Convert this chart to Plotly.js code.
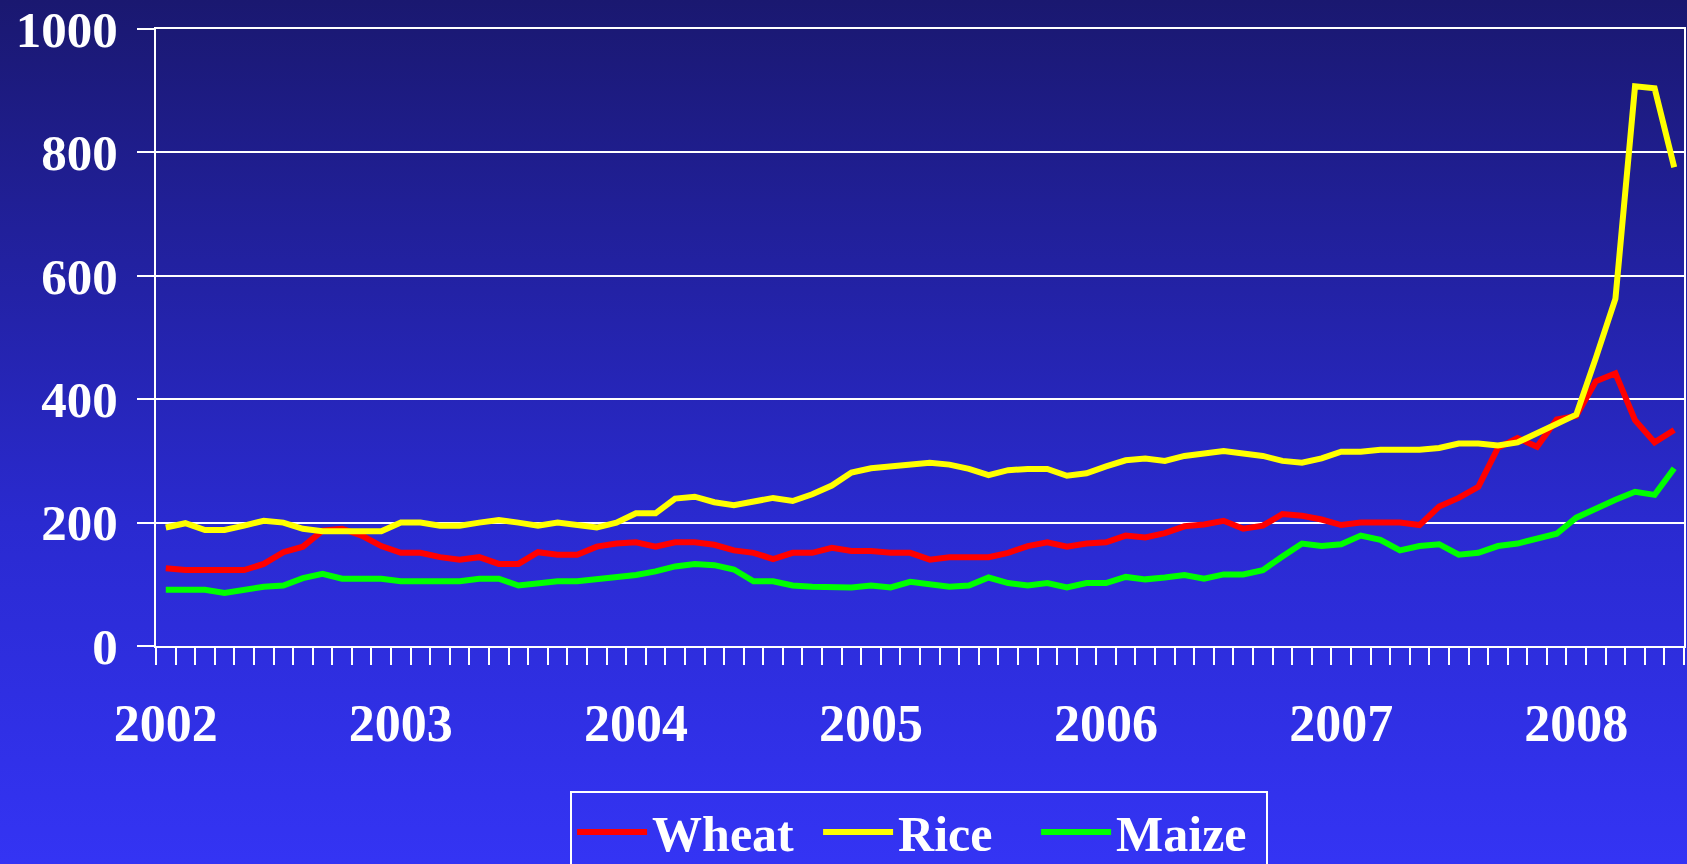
<!DOCTYPE html>
<html>
<head>
<meta charset="utf-8">
<script src="https://cdn.plot.ly/plotly-3.0.1.min.js"></script>
<style>
html,body{margin:0;padding:0;overflow:hidden;background:#3434f4;}
#chart{width:1687px;height:900px;background:linear-gradient(to bottom,#1a1870 0%,#2a2ad0 58%,#3434f4 96%,#3434f4 100%);}
</style>
</head>
<body>
<div id="chart"></div>
<script>
// Monthly categories, Jan 2002 - Jun 2008
const months = [
 "2002-01","2002-02","2002-03","2002-04","2002-05","2002-06","2002-07","2002-08","2002-09","2002-10","2002-11","2002-12",
 "2003-01","2003-02","2003-03","2003-04","2003-05","2003-06","2003-07","2003-08","2003-09","2003-10","2003-11","2003-12",
 "2004-01","2004-02","2004-03","2004-04","2004-05","2004-06","2004-07","2004-08","2004-09","2004-10","2004-11","2004-12",
 "2005-01","2005-02","2005-03","2005-04","2005-05","2005-06","2005-07","2005-08","2005-09","2005-10","2005-11","2005-12",
 "2006-01","2006-02","2006-03","2006-04","2006-05","2006-06","2006-07","2006-08","2006-09","2006-10","2006-11","2006-12",
 "2007-01","2007-02","2007-03","2007-04","2007-05","2007-06","2007-07","2007-08","2007-09","2007-10","2007-11","2007-12",
 "2008-01","2008-02","2008-03","2008-04","2008-05","2008-06"
];
// Year tick labels, placed at the January of each year
const yearTicks = ["2002-01","2003-01","2004-01","2005-01","2006-01","2007-01","2008-01"];
const yearLabels = ["2002","2003","2004","2005","2006","2007","2008"];
const yTicks = [0,200,400,600,800,1000];

const wheat = [
 126,123,123,123,123,133,152,161,187,190,179,162,
 151,151,144,140,144,133,133,152,148,148,161,166,
 168,161,168,168,164,155,151,141,151,151,159,154,
 154,151,151,140,144,144,144,151,162,168,161,166,
 168,179,176,183,194,197,203,190,195,214,211,205,
 196,200,200,200,196,226,240,258,321,337,323,367,
 373,429,442,366,330,350
];
const rice = [
 192,199,188,188,195,203,200,190,186,186,186,186,
 200,200,195,195,200,204,200,195,200,195,192,200,
 215,215,239,242,233,228,233,240,235,246,260,281,
 288,291,295,297,294,287,277,285,287,287,276,280,
 291,301,304,300,308,312,316,312,308,300,297,304,
 315,315,318,318,318,321,328,328,325,330,345,362,
 375,467,563,907,904,776
];
const maize = [
 91,91,91,86,91,96,98,110,117,109,109,109,
 105,105,105,105,109,109,98,102,105,105,108,112,
 115,121,129,133,131,124,105,105,98,96,95,95,
 98,95,104,100,96,98,111,102,98,102,95,102,
 102,112,108,111,115,109,116,116,123,145,166,162,
 165,179,172,155,162,165,148,151,162,166,173,182,
 208,223,237,250,245,288
];

const xTickText = months.map(m => {
  const k = yearTicks.indexOf(m);
  return k >= 0 ? yearLabels[k] : "";
});

const FONT = '"Liberation Serif", "Times New Roman", serif';
const mk = (name, y, color, lw) => ({
  type: 'scatter', mode: 'lines', name: name, x: months, y: y,
  line: {color: color, width: 6, shape: 'linear'},
  legendwidth: lw,
  hoverinfo: 'x+y+name'
});
const data = [
  mk('Wheat', wheat, '#ff0000', 161),
  mk('Rice', rice, '#ffff00', 133),
  mk('Maize', maize, '#00ff00', 145)
];

const layout = {
  width: 1687, height: 900,
  paper_bgcolor: 'rgba(0,0,0,0)',
  plot_bgcolor: 'rgba(0,0,0,0)',
  margin: {l: 156, r: 3, t: 29, b: 254, pad: 0},
  font: {family: FONT, size: 50, color: '#ffffff', weight: 'bold'},
  showlegend: true,
  xaxis: {
    type: 'category',
    range: [-0.5, months.length - 0.5],
    tickmode: 'array', tickvals: months, ticktext: xTickText,
    tickson: 'boundaries',
    ticks: 'outside', ticklen: 17, tickwidth: 2, tickcolor: '#ffffff',
    showline: true, linecolor: '#ffffff', linewidth: 2, mirror: true,
    showgrid: false, zeroline: false,
    tickangle: 0,
    tickfont: {family: FONT, size: 52, color: '#ffffff', weight: 'bold'},
    ticklabelstandoff: 31,
    fixedrange: true
  },
  yaxis: {
    range: [0, 1000],
    tickmode: 'array', tickvals: yTicks, ticktext: yTicks.map(String),
    ticks: 'outside', ticklen: 17, tickwidth: 2, tickcolor: '#ffffff',
    showline: true, linecolor: '#ffffff', linewidth: 2, mirror: true,
    showgrid: true, gridcolor: '#ffffff', gridwidth: 2,
    zeroline: false,
    tickfont: {family: FONT, size: 51, color: '#ffffff', weight: 'bold'},
    ticklabelstandoff: 9,
    ticklabeloverflow: 'allow',
    fixedrange: true
  },
  legend: {
    orientation: 'h',
    x: 0.271, xanchor: 'left',
    y: -0.235, yanchor: 'top',
    bgcolor: 'rgba(0,0,0,0)',
    bordercolor: '#ffffff', borderwidth: 2,
    font: {family: FONT, size: 50, color: '#ffffff', weight: 'bold'},
    itemwidth: 70,
    entrywidthmode: 'pixels',
    traceorder: 'normal'
  }
};

Plotly.newPlot('chart', data, layout, {displayModeBar: false, staticPlot: true});
</script>
</body>
</html>
